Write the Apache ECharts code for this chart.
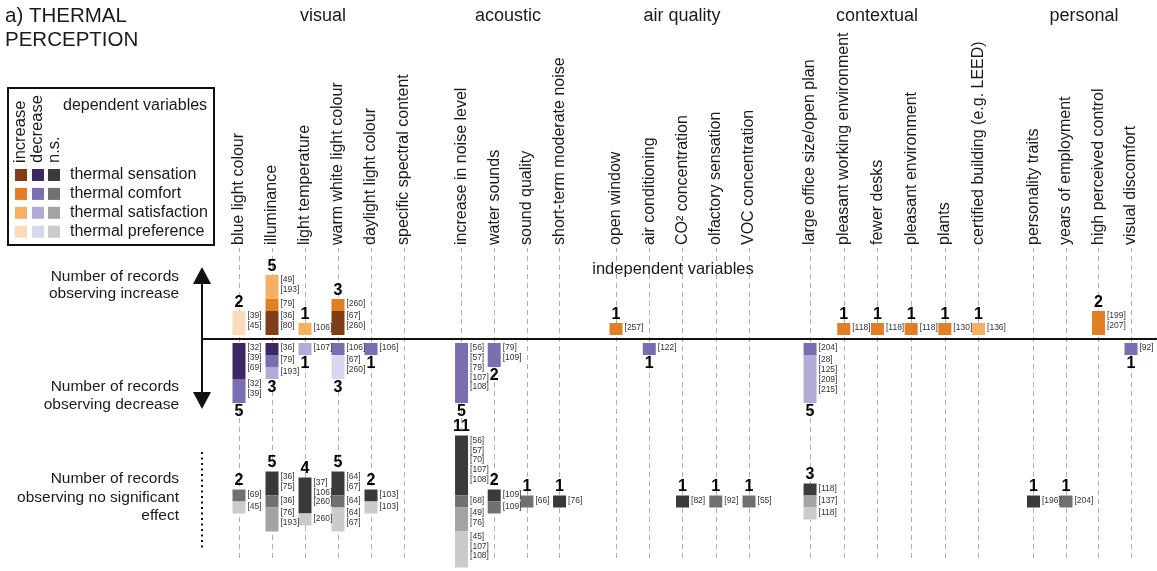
<!DOCTYPE html>
<html>
<head>
<meta charset="utf-8">
<title>Thermal perception</title>
<script src="https://cdn.jsdelivr.net/npm/echarts@6/dist/echarts.min.js"></script>
<style>
  html, body { margin: 0; padding: 0; background: #ffffff; }
  #chart { width: 1157px; height: 571px; }
</style>
</head>
<body>
<div id="chart"></div>
<script>
// Dependent variables, in stacking order from the zero line outward
const dependentVariables = ['thermal sensation', 'thermal comfort', 'thermal satisfaction', 'thermal preference'];

// Independent-variable groups and their categories
const groupTitles = ['visual', 'acoustic', 'air quality', 'contextual', 'personal'];
const visualCategories = ['blue light colour', 'illuminance', 'light temperature', 'warm white light colour', 'daylight light colour', 'specific spectral content'];
const acousticCategories = ['increase in noise level', 'water sounds', 'sound quality', 'short-term moderate noise'];
const airCategories = ['open window', 'air conditioning', 'CO² concentration', 'olfactory sensation', 'VOC concentration'];
const contextualCategories = ['large office size/open plan', 'pleasant working environment', 'fewer desks', 'pleasant environment', 'plants', 'certified building (e.g. LEED)'];
const personalCategories = ['personality traits', 'years of employment', 'high perceived control', 'visual discomfort'];

// Reference numbers per category: [sensation, comfort, satisfaction, preference]
const visualIncrease = [
  [[], [], [], [39, 45]],
  [[36, 80], [79], [49, 193], []],
  [[], [], [106], []],
  [[67, 260], [260], [], []],
  [[], [], [], []],
  [[], [], [], []]
];
const visualDecrease = [
  [[32, 39, 69], [32, 39], [], []],
  [[36], [79], [193], []],
  [[], [], [107], []],
  [[], [106], [], [67, 260]],
  [[], [106], [], []],
  [[], [], [], []]
];
const visualNoEffect = [
  [[], [69], [], [45]],
  [[36, 75], [36], [76, 193], []],
  [[37, 106, 260], [], [], [260]],
  [[64, 67], [64], [], [64, 67]],
  [[103], [], [], [103]],
  [[], [], [], []]
];

const acousticIncrease = [
  [[], [], [], []],
  [[], [], [], []],
  [[], [], [], []],
  [[], [], [], []]
];
const acousticDecrease = [
  [[], [56, 57, 79, 107, 108], [], []],
  [[], [79, 109], [], []],
  [[], [], [], []],
  [[], [], [], []]
];
const acousticNoEffect = [
  [[56, 57, 70, 107, 108], [68], [49, 76], [45, 107, 108]],
  [[109], [109], [], []],
  [[], [66], [], []],
  [[76], [], [], []]
];

const airIncrease = [
  [[], [257], [], []],
  [[], [], [], []],
  [[], [], [], []],
  [[], [], [], []],
  [[], [], [], []]
];
const airDecrease = [
  [[], [], [], []],
  [[], [122], [], []],
  [[], [], [], []],
  [[], [], [], []],
  [[], [], [], []]
];
const airNoEffect = [
  [[], [], [], []],
  [[], [], [], []],
  [[82], [], [], []],
  [[], [92], [], []],
  [[], [55], [], []]
];

const contextualIncrease = [
  [[], [], [], []],
  [[], [118], [], []],
  [[], [118], [], []],
  [[], [118], [], []],
  [[], [130], [], []],
  [[], [], [136], []]
];
const contextualDecrease = [
  [[], [204], [28, 125, 209, 215], []],
  [[], [], [], []],
  [[], [], [], []],
  [[], [], [], []],
  [[], [], [], []],
  [[], [], [], []]
];
const contextualNoEffect = [
  [[118], [], [137], [118]],
  [[], [], [], []],
  [[], [], [], []],
  [[], [], [], []],
  [[], [], [], []],
  [[], [], [], []]
];

const personalIncrease = [
  [[], [], [], []],
  [[], [], [], []],
  [[], [199, 207], [], []],
  [[], [], [], []]
];
const personalDecrease = [
  [[], [], [], []],
  [[], [], [], []],
  [[], [], [], []],
  [[], [92], [], []]
];
const personalNoEffect = [
  [[196], [], [], []],
  [[], [204], [], []],
  [[], [], [], []],
  [[], [], [], []]
];

// Colours per dependent variable
const increaseColours = ['#803d18', '#e07f24', '#f5b062', '#fbdcb9'];
const decreaseColours = ['#3c2862', '#7c6db2', '#b3abd7', '#d6d9ee'];
const noEffectColours = ['#3a3a3c', '#717171', '#a3a3a3', '#cbcbcb'];

// Layout
const FONT = '"Liberation Sans", Arial, sans-serif';
const groupLeft = [222.5, 445.2, 599.4, 793.2, 1017.25];
const groupWidth = [198, 130.7, 166.25, 202.2, 130];
const groupTitleX = [323, 508, 682, 877, 1084];
const rowLayout = [
  { top: 263, height: 72, max: 6, inverse: false, colours: increaseColours, countPos: 'top', centred: false },
  { top: 343, height: 72, max: 6, inverse: true, colours: decreaseColours, countPos: 'bottom', centred: false },
  { top: 429.5, height: 144, max: 12, inverse: true, colours: noEffectColours, countPos: 'top', centred: true }
];

const groups = [
  { cats: visualCategories, rows: [visualIncrease, visualDecrease, visualNoEffect] },
  { cats: acousticCategories, rows: [acousticIncrease, acousticDecrease, acousticNoEffect] },
  { cats: airCategories, rows: [airIncrease, airDecrease, airNoEffect] },
  { cats: contextualCategories, rows: [contextualIncrease, contextualDecrease, contextualNoEffect] },
  { cats: personalCategories, rows: [personalIncrease, personalDecrease, personalNoEffect] }
];

const grid = [], xAxis = [], yAxis = [], series = [];

groups.forEach((g, gi) => {
  const left = groupLeft[gi], width = groupWidth[gi];

  // Guide grid: category names on top and dashed guide lines down through all rows
  const guide = grid.length;
  grid.push({ left, width, top: 248, height: 310, outerBoundsMode: 'none', containLabel: false });
  xAxis.push({
    gridIndex: guide, type: 'category', data: g.cats, position: 'top',
    axisLine: { show: false },
    axisTick: { show: false },
    axisLabel: { show: true, rotate: 90, interval: 0, margin: 3, fontSize: 16, color: '#1a1a1a', fontFamily: FONT },
    splitLine: { show: false }
  });
  yAxis.push({ gridIndex: guide, type: 'value', min: 0, max: 1, show: false });
  series.push({
    type: 'scatter', xAxisIndex: guide, yAxisIndex: guide, z: 0, silent: true, data: [],
    markLine: {
      z: 0, silent: true, symbol: ['none', 'none'], label: { show: false },
      lineStyle: { type: [5, 4], color: '#b0b0b0', width: 1 },
      data: g.cats.map(c => ({ xAxis: c }))
    }
  });

  g.rows.forEach((records, ri) => {
    const row = rowLayout[ri];
    const gidx = grid.length;
    grid.push({ left, width, top: row.top, height: row.height, outerBoundsMode: 'none', containLabel: false });
    xAxis.push({ gridIndex: gidx, type: 'category', data: g.cats, show: false });
    yAxis.push({ gridIndex: gidx, type: 'value', min: 0, max: row.max, inverse: row.inverse, show: false });

    const totals = records.map(r => r.reduce((s, refs) => s + refs.length, 0));
    const stack = 'g' + gi + 'r' + ri;

    if (row.centred) {
      // transparent spacer so each stack is centred on the row's middle
      series.push({
        type: 'bar', xAxisIndex: gidx, yAxisIndex: gidx, stack, barWidth: 13, silent: true, z: 3,
        itemStyle: { color: 'rgba(0,0,0,0)' },
        data: totals.map(t => t ? row.max / 2 - t / 2 : '-')
      });
    }

    for (let v = 0; v < 4; v++) {
      series.push({
        type: 'bar', name: dependentVariables[v], xAxisIndex: gidx, yAxisIndex: gidx, stack, barWidth: 13, z: 3,
        itemStyle: { color: row.colours[v] },
        label: {
          show: true, position: ['100%', 0], offset: [2, 0], align: 'left', verticalAlign: 'top',
          fontSize: 8.5, lineHeight: 9.8, color: '#333333', fontFamily: FONT,
          formatter: p => p.data.refs.map(n => '[' + n + ']').join('\n')
        },
        data: records.map(r => r[v].length ? { value: r[v].length, refs: r[v] } : '-')
      });
    }

    // record counts
    series.push({
      type: 'scatter', xAxisIndex: gidx, yAxisIndex: gidx, symbolSize: 1, silent: true, z: 4,
      itemStyle: { color: 'rgba(0,0,0,0)', opacity: 1 },
      label: { show: true, position: row.countPos, distance: 0, fontSize: 16, fontWeight: 'bold', color: '#000000', fontFamily: FONT,
        formatter: p => String(p.data.total) },
      data: totals.map((t, i) => t ? { value: [i, row.centred ? row.max / 2 - t / 2 : t], total: t } : null).filter(Boolean)
    });
  });
});

// Annotation helpers
function text(x, y, str, size, align, extra) {
  return Object.assign({
    type: 'text', x, y, z: 20, silent: true,
    style: { text: str, font: size + 'px ' + FONT, fill: '#1a1a1a',
      textAlign: align, align: align, textVerticalAlign: 'middle', verticalAlign: 'middle' }
  }, extra || {});
}

const graphics = [];
graphics.push(text(5, 16, 'a) THERMAL', 20.5, 'left'));
graphics.push(text(5, 40, 'PERCEPTION', 20.5, 'left'));
groupTitles.forEach((t, i) => graphics.push(text(groupTitleX[i], 16, t, 18, 'center')));
graphics.push(text(673, 269, 'independent variables', 16.5, 'center'));

// Legend box
graphics.push({ type: 'rect', z: 20, silent: true, shape: { x: 8, y: 88, width: 206, height: 157 },
  style: { fill: 'none', stroke: '#111111', lineWidth: 2 } });
['increase', 'decrease', 'n.s.'].forEach((t, i) =>
  graphics.push(text([20, 37.5, 54][i], 163, t, 16.5, 'left', { rotation: Math.PI / 2 })));
graphics.push(text(63, 106, 'dependent variables', 16, 'left'));
const legendColours = [increaseColours, decreaseColours, noEffectColours];
dependentVariables.forEach((name, j) => {
  legendColours.forEach((cols, k) => {
    graphics.push({ type: 'rect', z: 20, silent: true,
      shape: { x: [15, 32, 48][k], y: 169 + j * 18.9, width: 12, height: 12 },
      style: { fill: cols[j] } });
  });
  graphics.push(text(70, 175 + j * 18.9, name, 16, 'left'));
});

// Row captions
[['Number of records', 277], ['observing increase', 294],
 ['Number of records', 387], ['observing decrease', 405],
 ['Number of records', 479], ['observing no significant', 498], ['effect', 516]]
  .forEach(([t, y]) => graphics.push(text(179, y, t, 15.5, 'right')));

// Direction arrow, zero line and the dotted marker of the n.s. row
graphics.push({ type: 'line', z: 20, silent: true, shape: { x1: 202, y1: 280, x2: 202, y2: 396 },
  style: { stroke: '#111111', lineWidth: 2 } });
graphics.push({ type: 'polygon', z: 20, silent: true, shape: { points: [[202, 267], [193, 284], [211, 284]] },
  style: { fill: '#111111' } });
graphics.push({ type: 'polygon', z: 20, silent: true, shape: { points: [[202, 409], [193, 392], [211, 392]] },
  style: { fill: '#111111' } });
graphics.push({ type: 'line', z: 20, silent: true, shape: { x1: 202, y1: 339, x2: 1157, y2: 339 },
  style: { stroke: '#111111', lineWidth: 2 } });
graphics.push({ type: 'line', z: 20, silent: true, shape: { x1: 202, y1: 452, x2: 202, y2: 548 },
  style: { stroke: '#111111', lineWidth: 2, lineDash: [2, 3.5] } });

const chart = echarts.init(document.getElementById('chart'), null, { renderer: 'canvas' });
chart.setOption({
  animation: false,
  backgroundColor: '#ffffff',
  textStyle: { fontFamily: FONT },
  grid, xAxis, yAxis, series,
  graphic: { elements: graphics }
});
</script>
</body>
</html>
